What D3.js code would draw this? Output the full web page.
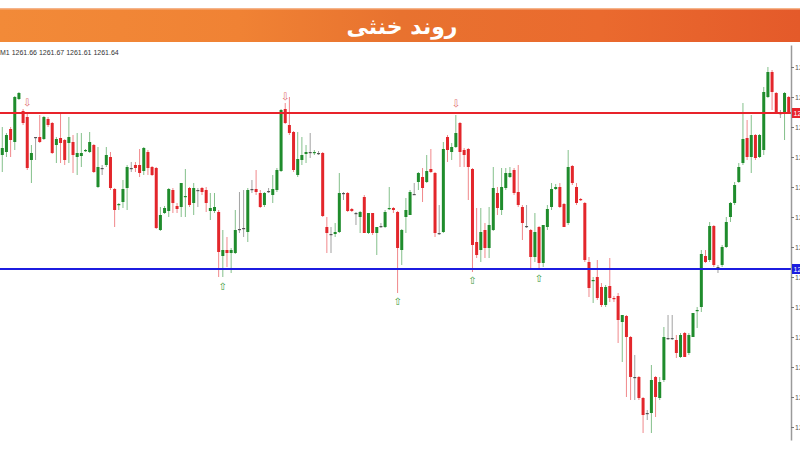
<!DOCTYPE html>
<html>
<head>
<meta charset="utf-8">
<script src="https://cdn.jsdelivr.net/npm/d3@7"></script>
<style>
html,body{margin:0;padding:0;background:#fff;overflow:hidden;}
svg{display:block;}
</style>
</head>
<body>
<svg id="chart" width="800" height="458"></svg>
<script>
const title = "روند خنثی";
const headerText = "M1  1261.66 1261.67 1261.61 1261.64";

const opens = [
1261.22,1261.25,1261.48,1261.35,1261.78,1261.66,1261.60,1261.17,1261.40,1261.40,
1261.38,1261.58,1261.54,1261.32,1261.39,1261.37,1261.34,1261.35,1261.20,1261.21,
1261.26,1261.25,1261.32,1260.90,1261.09,1261.12,1261.20,1260.88,1260.72,1260.75,
1260.89,1261.09,1261.12,1261.12,1261.06,1261.25,1261.10,1261.09,1260.47,1260.64,
1260.66,1260.87,1260.71,1260.70,1260.80,1260.89,1260.74,1260.87,1260.89,1260.87,
1260.66,1260.66,1260.65,1260.21,1260.27,1260.24,1260.24,1260.48,1260.49,1260.45,
1260.88,1260.88,1260.84,1260.72,1260.86,1260.82,1260.87,1261.06,1261.68,1261.52,
1261.45,1261.02,1261.17,1261.23,1261.25,1261.24,1261.24,1261.24,1260.50,1260.43,
1260.43,1260.45,1260.84,1260.84,1260.68,1260.64,1260.60,1260.80,1260.44,1260.64,
1260.44,1260.51,1260.50,1260.68,1260.69,1260.65,1260.27,1260.60,1260.62,1260.83,
1260.95,1261.00,1260.95,1261.08,1261.04,1260.44,1260.45,1261.40,1261.25,1261.30,
1261.54,1261.27,1261.28,1261.08,1260.35,1260.27,1260.47,1260.29,1260.47,1260.84,
1260.67,1260.89,1261.00,1261.07,1260.85,1260.70,1260.51,1260.47,1260.20,1260.50,
1260.14,1260.50,1260.70,1260.88,1260.90,1260.73,1260.54,1261.11,1260.90,1260.78,
1260.74,1260.15,1259.96,1260.00,1259.90,1259.72,1259.91,1259.79,1259.81,1259.55,
1259.61,1259.40,1259.00,1259.00,1258.79,1258.64,1258.64,1259.00,1258.79,1258.97,
1259.39,1259.39,1259.37,1259.20,1259.44,1259.24,1259.40,1259.66,1259.70,1260.21,
1260.17,1260.51,1260.10,1260.12,1260.30,1260.60,1260.74,1260.95,1261.14,1261.39,
1261.20,1261.42,1261.20,1261.27,1261.80,1262.05,1261.84,1261.64,1261.65,1261.80
];
const highs = [
1261.50,1261.44,1261.50,1261.81,1261.85,1261.68,1261.64,1261.32,1261.40,1261.62,
1261.61,1261.60,1261.55,1261.40,1261.65,1261.38,1261.60,1261.42,1261.44,1261.44,
1261.28,1261.45,1261.33,1261.30,1261.12,1261.30,1261.25,1260.89,1260.74,1260.97,
1261.12,1261.15,1261.15,1261.28,1261.30,1261.27,1261.11,1261.10,1260.70,1260.71,
1260.89,1260.89,1260.74,1260.94,1261.08,1260.90,1260.94,1260.89,1260.90,1260.90,
1260.84,1260.84,1260.67,1260.47,1260.40,1260.29,1260.67,1260.85,1260.87,1260.89,
1260.97,1261.07,1260.87,1260.85,1260.89,1261.02,1261.09,1261.68,1261.74,1261.80,
1261.46,1261.45,1261.40,1261.32,1261.44,1261.27,1261.26,1261.25,1260.60,1260.50,
1260.54,1261.04,1260.85,1260.85,1260.69,1260.65,1260.66,1260.82,1260.64,1260.64,
1260.50,1260.54,1260.67,1260.90,1260.70,1260.66,1260.48,1260.79,1260.87,1260.94,
1261.05,1261.09,1261.22,1261.28,1261.05,1260.72,1261.35,1261.42,1261.34,1261.62,
1261.55,1261.29,1261.29,1261.09,1260.69,1260.69,1260.54,1260.70,1261.10,1260.90,
1261.09,1261.09,1261.10,1261.09,1261.12,1260.72,1260.72,1260.48,1260.64,1260.51,
1260.52,1260.72,1260.94,1260.93,1260.94,1260.74,1261.27,1261.12,1260.94,1260.79,
1260.75,1260.20,1260.00,1260.17,1259.94,1259.92,1260.19,1259.81,1259.84,1259.62,
1259.62,1259.41,1259.22,1259.01,1258.80,1258.67,1259.12,1259.01,1259.00,1259.50,
1259.62,1259.62,1259.42,1259.44,1259.45,1259.44,1259.64,1259.70,1260.27,1260.27,
1260.55,1260.52,1260.12,1260.32,1260.60,1260.75,1260.95,1261.14,1261.74,1261.57,
1261.62,1261.43,1261.43,1261.90,1262.10,1262.07,1261.85,1261.67,1261.85,1261.81
];
const lows = [
1261.05,1261.20,1261.20,1261.27,1261.77,1261.52,1261.07,1260.94,1261.17,1261.34,
1261.37,1261.50,1261.23,1261.14,1261.14,1261.12,1261.14,1261.04,1261.02,1261.10,
1261.25,1261.24,1261.04,1260.89,1261.02,1261.10,1260.87,1260.50,1260.67,1260.69,
1260.67,1261.05,1261.05,1261.00,1261.02,1261.02,1261.01,1260.48,1260.46,1260.63,
1260.60,1260.64,1260.64,1260.60,1260.60,1260.70,1260.62,1260.70,1260.82,1260.65,
1260.57,1260.64,1260.00,1260.00,1260.10,1260.04,1260.23,1260.44,1260.40,1260.35,
1260.84,1260.82,1260.69,1260.70,1260.84,1260.74,1260.85,1261.05,1261.53,1261.42,
1261.05,1261.00,1261.12,1261.14,1261.19,1261.22,1261.22,1260.60,1260.24,1260.24,
1260.40,1260.44,1260.77,1260.65,1260.65,1260.52,1260.44,1260.44,1260.43,1260.42,
1260.22,1260.49,1260.49,1260.67,1260.64,1259.84,1260.12,1260.44,1260.62,1260.82,
1260.87,1260.75,1260.94,1261.04,1260.40,1260.42,1260.44,1261.15,1261.17,1261.29,
1261.10,1261.10,1260.77,1260.05,1260.19,1260.15,1260.19,1260.19,1260.46,1260.62,
1260.62,1260.87,1260.99,1260.82,1260.70,1260.37,1260.49,1260.09,1260.15,1260.09,
1260.10,1260.47,1260.67,1260.87,1260.69,1260.50,1260.52,1260.92,1260.72,1260.76,
1260.15,1259.80,1259.74,1259.77,1259.70,1259.70,1259.75,1259.75,1259.34,1259.15,
1258.80,1258.77,1258.77,1258.77,1258.44,1258.57,1258.44,1258.60,1258.77,1258.95,
1259.37,1259.37,1259.19,1259.19,1259.20,1259.22,1259.40,1259.49,1259.65,1260.14,
1260.15,1260.10,1260.04,1260.10,1260.29,1260.55,1260.72,1260.94,1261.12,1261.17,
1261.04,1261.17,1261.19,1261.22,1261.79,1261.67,1261.64,1261.59,1261.37,1261.63
];
const closes = [
1261.29,1261.42,1261.37,1261.80,1261.84,1261.54,1261.09,1261.24,1261.40,1261.35,
1261.60,1261.52,1261.24,1261.38,1261.34,1261.17,1261.40,1261.22,1261.24,1261.24,
1261.27,1261.35,1261.05,1261.10,1261.09,1261.22,1260.89,1260.67,1260.73,1260.88,
1261.10,1261.09,1261.09,1261.04,1261.29,1261.09,1261.02,1260.49,1260.62,1260.69,
1260.88,1260.74,1260.68,1260.94,1260.81,1260.72,1260.89,1260.87,1260.85,1260.74,
1260.69,1260.70,1260.25,1260.27,1260.24,1260.27,1260.47,1260.48,1260.49,1260.87,
1260.88,1260.85,1260.70,1260.84,1260.86,1260.88,1261.07,1261.67,1261.54,1261.44,
1261.07,1261.18,1261.22,1261.25,1261.25,1261.25,1261.24,1260.61,1260.44,1260.43,
1260.45,1260.84,1260.84,1260.66,1260.66,1260.64,1260.65,1260.44,1260.64,1260.44,
1260.50,1260.51,1260.65,1260.69,1260.67,1260.29,1260.47,1260.67,1260.85,1260.83,
1261.04,1260.89,1261.06,1261.05,1260.44,1260.44,1261.28,1261.27,1261.30,1261.44,
1261.25,1261.22,1261.10,1260.32,1260.22,1260.45,1260.29,1260.52,1260.89,1260.69,
1260.90,1261.04,1261.04,1260.84,1260.72,1260.54,1260.51,1260.20,1260.45,1260.14,
1260.52,1260.68,1260.88,1260.90,1260.70,1260.50,1261.10,1260.94,1260.74,1260.77,
1260.17,1259.89,1259.97,1259.79,1259.72,1259.90,1259.79,1259.78,1259.57,1259.62,
1259.40,1259.00,1259.00,1258.79,1258.62,1258.64,1258.97,1258.80,1258.95,1259.40,
1259.39,1259.39,1259.24,1259.42,1259.20,1259.42,1259.64,1259.67,1260.23,1260.15,
1260.51,1260.12,1260.10,1260.30,1260.55,1260.74,1260.92,1261.10,1261.38,1261.20,
1261.42,1261.19,1261.42,1261.85,1262.05,1261.85,1261.65,1261.64,1261.84,1261.64
];

const tickValues = [1262.10,1261.80,1261.50,1261.20,1260.90,1260.60,1260.30,1260.00,1259.70,1259.40,1259.10,1258.80,1258.50];
const resistanceLevel = 1261.64;
const supportLevel = 1260.08;
const sellMarkIdx = [6, 68, 109];
const sellMarkPrice = [1261.75, 1261.81, 1261.74];
const buyMarkIdx = [53, 95, 113, 129];
const buyMarkPrice = [1259.91, 1259.76, 1259.97, 1259.99];

const candles = opens.map((o, i) => ({i, o, h: highs[i], l: lows[i], c: closes[i]}));

const svg = d3.select("#chart");
const W = 800, H = 458;
const plotRight = 791, plotTop = 45, plotBottom = 440;

// banner
const defs = svg.append("defs");
const grad = defs.append("linearGradient").attr("id", "bannerGrad").attr("x1", "0").attr("x2", "1").attr("y1", "0").attr("y2", "0");
grad.append("stop").attr("offset", "0").attr("stop-color", "#f28a38");
grad.append("stop").attr("offset", "0.3").attr("stop-color", "#f08234");
grad.append("stop").attr("offset", "0.5").attr("stop-color", "#e8722f");
grad.append("stop").attr("offset", "0.75").attr("stop-color", "#ea6a2e");
grad.append("stop").attr("offset", "1").attr("stop-color", "#e45a2a");
svg.append("rect").attr("x", 0).attr("y", 8).attr("width", W).attr("height", 34).attr("fill", "url(#bannerGrad)");
svg.append("rect").attr("x", 0).attr("y", 8).attr("width", W).attr("height", 1.5).attr("fill", "#f5b48a");
svg.append("text").attr("x", 402).attr("y", 34)
  .attr("text-anchor", "middle").attr("direction", "rtl")
  .attr("font-family", "DejaVu Sans, sans-serif").attr("font-size", 22).attr("font-weight", "bold")
  .attr("fill", "#ffffff").text(title);

// header info text
svg.append("text").attr("x", 0).attr("y", 55)
  .attr("font-family", "Liberation Sans, Arial, sans-serif").attr("font-size", 7)
  .attr("fill", "#333").text(headerText);

// scales
const x = d3.scaleBand().domain(d3.range(candles.length)).range([0, plotRight]).paddingInner(0.3).paddingOuter(0.2);
const y = d3.scaleLinear().domain([1258.37, 1262.32]).range([plotBottom, plotTop]);
const cx = i => x(i) + x.bandwidth() / 2;

const green = "#1f8c2c", red = "#e3262b", dojiCol = "#555";
const colorOf = d => d.c > d.o ? green : (d.c < d.o ? red : dojiCol);

const g = svg.append("g");
// wicks
g.selectAll("line.wick").data(candles).join("line").attr("class", "wick")
  .attr("x1", d => cx(d.i)).attr("x2", d => cx(d.i))
  .attr("y1", d => y(d.h)).attr("y2", d => y(d.l))
  .attr("stroke", colorOf).attr("stroke-opacity", 0.55).attr("stroke-width", 1);
// bodies
g.selectAll("rect.body").data(candles).join("rect").attr("class", "body")
  .attr("x", d => cx(d.i) - 1.5).attr("width", 3)
  .attr("y", d => y(Math.max(d.o, d.c)))
  .attr("height", d => Math.max(1.2, Math.abs(y(d.o) - y(d.c))))
  .attr("fill", colorOf);

// levels
svg.append("line").attr("x1", 0).attr("x2", plotRight).attr("y1", y(resistanceLevel)).attr("y2", y(resistanceLevel))
  .attr("stroke", "#e8232a").attr("stroke-width", 2);
svg.append("line").attr("x1", 0).attr("x2", plotRight).attr("y1", y(supportLevel)).attr("y2", y(supportLevel))
  .attr("stroke", "#1c1ce0").attr("stroke-width", 2);

// fractal markers
svg.selectAll("text.sell").data(sellMarkIdx).join("text").attr("class", "sell")
  .attr("x", (d) => cx(d)).attr("y", (d, k) => y(sellMarkPrice[k]))
  .attr("text-anchor", "middle").attr("dominant-baseline", "central")
  .attr("font-family", "DejaVu Sans, sans-serif").attr("font-size", 10)
  .attr("fill", "#e06a6a").text("⇩");
svg.selectAll("text.buy").data(buyMarkIdx).join("text").attr("class", "buy")
  .attr("x", (d) => cx(d)).attr("y", (d, k) => y(buyMarkPrice[k]))
  .attr("text-anchor", "middle").attr("dominant-baseline", "central")
  .attr("font-family", "DejaVu Sans, sans-serif").attr("font-size", 10)
  .attr("fill", "#3c9a3c").text("⇧");

// right axis
const axis = d3.axisRight(y).tickValues(tickValues).tickSize(3).tickSizeOuter(0).tickFormat(d3.format(".2f"));
const ax = svg.append("g").attr("transform", `translate(${plotRight},0)`).call(axis);
ax.select(".domain").attr("stroke", "#9a9a9a").attr("stroke-width", 1.5);
ax.selectAll(".tick line").attr("stroke", "#777");
ax.selectAll(".tick text").attr("x", 4).attr("font-family", "Liberation Sans, Arial, sans-serif").attr("font-size", 7).attr("fill", "#555");

// level labels
[[resistanceLevel, "#e8232a"], [supportLevel, "#1c1ce0"]].forEach(([v, col]) => {
  svg.append("rect").attr("x", plotRight + 1).attr("y", y(v) - 5).attr("width", 12).attr("height", 10).attr("fill", col);
  svg.append("text").attr("x", plotRight + 2.5).attr("y", y(v) + 2.5)
    .attr("font-family", "Liberation Sans, Arial, sans-serif").attr("font-size", 7).attr("fill", "#fff")
    .text(d3.format(".2f")(v));
});
</script>
</body>
</html>
